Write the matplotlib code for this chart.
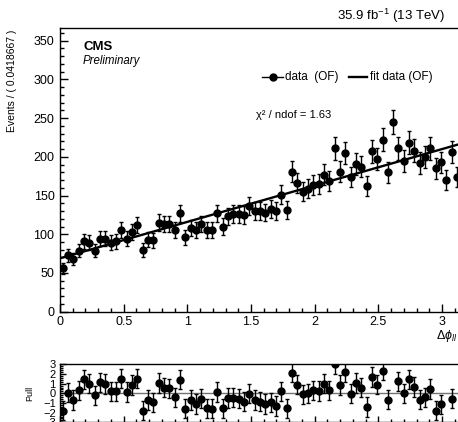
import numpy as np
import matplotlib
matplotlib.use("Agg")
import matplotlib.pyplot as plt
from matplotlib.ticker import MultipleLocator
from matplotlib.lines import Line2D

plt.rcParams['font.family'] = ['Liberation Sans', 'DejaVu Sans']
plt.rcParams['mathtext.fontset'] = 'custom'
plt.rcParams['mathtext.rm'] = 'Liberation Sans'
plt.rcParams['mathtext.it'] = 'Liberation Sans:italic'
plt.rcParams['mathtext.bf'] = 'Liberation Sans:bold'

# ---------------- data ----------------
bin_width = 0.0418667
n_bins = 75
counts = [56, 73, 68, 79, 91, 89, 79, 94, 94, 89,
          91, 105, 94, 103, 112, 80, 93, 92, 115, 113,
          113, 105, 127, 96, 108, 105, 113, 105, 105, 127,
          110, 123, 126, 126, 125, 136, 130, 130, 128, 133,
          130, 151, 131, 181, 166, 155, 159, 164, 165, 177,
          169, 211, 181, 205, 174, 191, 187, 162, 207, 197,
          222, 180, 245, 211, 195, 218, 208, 192, 200, 211,
          185, 193, 170, 206, 174]
pulls = [-1.8, 0.05, -0.7, 0.3, 1.45, 1.0, -0.2, 1.15, 0.95, 0.2,
         0.2, 1.5, 0.15, 0.85, 1.5, -1.8, -0.7, -0.95, 1.05, 0.6,
         0.5, -0.4, 1.4, -1.6, -0.7, -1.1, -0.55, -1.55, -1.6, 0.15,
         -1.55, -0.5, -0.45, -0.55, -0.85, -0.05, -0.7, -0.85, -1.1, -0.95,
         -1.3, 0.2, -1.55, 2.15, 0.9, -0.1, 0.0, 0.3, 0.25, 1.0,
         0.3, 3.0, 0.85, 2.2, -0.05, 1.05, 0.6, -1.4, 1.7, 0.9,
         2.35, -0.65, 3.4, 1.25, 0.0, 1.45, 0.65, -0.65, -0.4, 0.45,
         -1.8, -1.15, -3.2, -0.55, -3.1]
fit_intercept = 69.0
fit_slope = 47.0
chi2_ndof = 1.63
x_max = np.pi

# ---------------- layout helpers ----------------
W, H = 458, 422
fig = plt.figure(figsize=(W / 100, H / 100), dpi=100)

def rect(l, t, r, b):
    return [l / W, 1 - b / H, (r - l) / W, (b - t) / H]

def fx(x):
    return x / W

def fy(y):
    return 1 - y / H

ax = fig.add_axes(rect(60, 28, 460, 311.7))
axp = fig.add_axes(rect(60, 364.3, 460, 422.3))

centers = (np.arange(n_bins) + 0.5) * bin_width
counts_a = np.array(counts, float)
err = np.sqrt(counts_a)

# main panel
ax.errorbar(centers, counts_a, yerr=err, fmt='o', color='black', ms=5,
            elinewidth=1, capsize=1.5, capthick=1, zorder=3)
xf = np.linspace(0, x_max, 300)
ax.plot(xf, fit_intercept + fit_slope * xf, color='black', lw=1.7, zorder=4)
ax.set_xlim(0, x_max)
ax.set_ylim(0, 366.4)
ax.xaxis.set_major_locator(MultipleLocator(0.5))
ax.xaxis.set_minor_locator(MultipleLocator(0.1))
ax.yaxis.set_major_locator(MultipleLocator(50))
ax.yaxis.set_minor_locator(MultipleLocator(10))
ax.tick_params(which='both', direction='in', top=False, right=False,
               labelsize=9, width=1)
ax.tick_params(which='major', length=6)
ax.tick_params(which='minor', length=3)
ax.tick_params(axis='x', pad=3)
ax.tick_params(axis='y', pad=4)
ax.set_xticks([0, 0.5, 1, 1.5, 2, 2.5, 3])
ax.set_xticklabels(['0', '0.5', '1', '1.5', '2', '2.5', '3'])
for s in ax.spines.values():
    s.set_linewidth(1)

# pull panel
pulls_a = np.array(pulls, float)
mask = np.abs(pulls_a) <= 3.01
axp.axhline(0, color='0.45', lw=1, zorder=1)
axp.errorbar(centers[mask], pulls_a[mask], yerr=1.0, fmt='o', color='black',
             ms=5, elinewidth=1, capsize=1.5, capthick=1, zorder=3)
axp.set_xlim(0, x_max)
axp.set_ylim(-3, 3)
axp.xaxis.set_major_locator(MultipleLocator(0.5))
axp.xaxis.set_minor_locator(MultipleLocator(0.1))
axp.yaxis.set_major_locator(MultipleLocator(1))
axp.yaxis.set_minor_locator(MultipleLocator(0.2))
axp.tick_params(which='both', direction='in', top=False, right=False,
                labelbottom=False, labelsize=8, width=1, pad=3)
axp.tick_params(which='major', length=4)
axp.tick_params(which='minor', length=2.5)
axp.set_yticks([-3, -2, -1, 0, 1, 2, 3])
axp.set_yticklabels(['\u22123', '\u22122', '\u22121', '0', '1', '2', '3'])
for s in axp.spines.values():
    s.set_linewidth(1)

# texts
fig.text(fx(12), fy(30), 'Events / ( 0.0418667 )', rotation=90,
         ha='center', va='top', fontsize=7.5)
fig.text(fx(30), fy(393), 'Pull', rotation=90, ha='center', va='center',
         fontsize=6.5)
fig.text(fx(83), fy(47), 'CMS', fontweight='bold', fontsize=9.5,
         ha='left', va='center')
fig.text(fx(83), fy(61), 'Preliminary', fontstyle='italic', fontsize=8.3,
         ha='left', va='center')
fig.text(fx(445), fy(16), r'35.9 fb$^{-1}$ (13 TeV)', fontsize=9.5,
         ha='right', va='center')
fig.text(fx(256), fy(115), '\u03c7\u00b2 / ndof = %.2f' % chi2_ndof,
         fontsize=8, ha='left', va='center')
fig.text(fx(457), fy(336), r'$\Delta\phi_{ll}$', fontsize=9,
         ha='right', va='center')

# legend (manual, ROOT-like)
ly = fy(77)
fig.add_artist(Line2D([fx(262), fx(283)], [ly, ly], color='black', lw=1,
                      transform=fig.transFigure))
fig.add_artist(Line2D([fx(272.5)], [ly], color='black', marker='o', ms=5,
                      lw=0, transform=fig.transFigure))
fig.text(fx(285), ly, 'data  (OF)', fontsize=8.5, ha='left', va='center')
fig.add_artist(Line2D([fx(349), fx(367)], [ly, ly], color='black', lw=1.7,
                      transform=fig.transFigure))
fig.text(fx(370), ly, 'fit data (OF)', fontsize=8.5, ha='left', va='center')

fig.savefig('out.png', dpi=100)
